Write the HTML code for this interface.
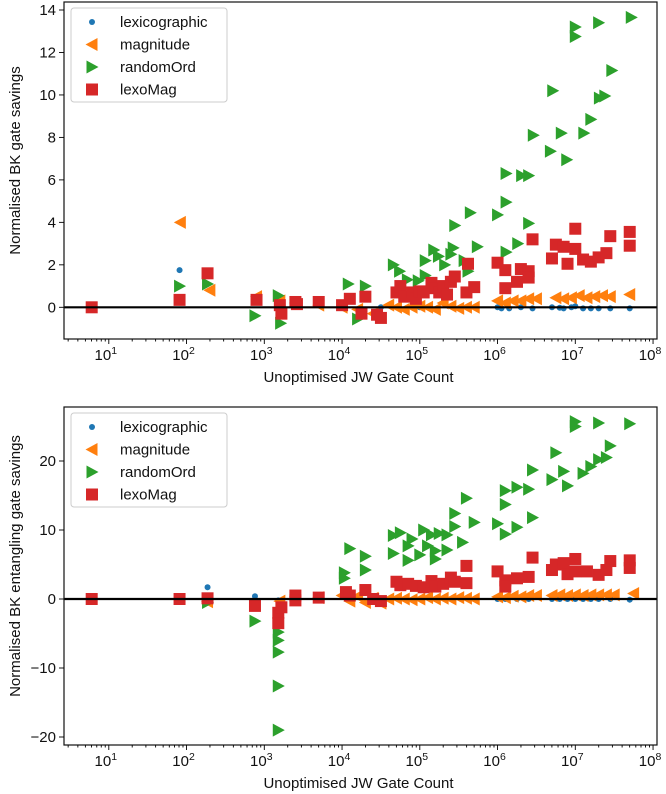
<!DOCTYPE html>
<html><head><meta charset="utf-8"><style>
body{margin:0;background:#fff;width:666px;height:794px;overflow:hidden}
svg{display:block;font-family:"Liberation Sans","DejaVu Sans",sans-serif}
</style></head><body>
<svg id="fig" width="666" height="794" viewBox="0 0 666 794"></svg>
<script>
// ---- data: x stored as log10(gate count) ----
const seriesNames = ["lexicographic","magnitude","randomOrd","lexoMag"];
const xTickExps = [1,2,3,4,5,6,7,8];
const topYTicks = [0,2,4,6,8,10,12,14];
const botYTicks = [-20,-10,0,10,20];

const topLexX = [1.91,6.0,6.05,6.15,6.3,6.45,6.7,6.8,6.85,6.95,7.0,7.1,7.2,7.3,7.45,7.7,3.2,4.0,4.5,5.0];
const topLexY = [1.75,0.0,-0.05,-0.05,0,-0.05,0,-0.02,-0.05,0,0.05,-0.05,-0.05,-0.05,-0.05,-0.05,0,0,0,0];
const topMagX = [1.92,2.3,2.9,3.2,3.4,3.7,4.0,4.2,4.4,4.6,4.7,4.8,4.9,5.0,5.1,5.2,5.3,5.4,5.5,5.6,5.7,6.0,6.1,6.2,6.3,6.4,6.5,6.75,6.85,6.95,7.05,7.15,7.25,7.35,7.45,7.7];
const topMagY = [4.0,0.8,0.5,0.3,0.2,0.1,0.0,-0.1,-0.3,0.1,0.0,-0.1,0.0,0.05,0.0,-0.1,0.2,0.05,-0.05,0.0,0.0,0.3,0.2,0.3,0.3,0.4,0.4,0.45,0.4,0.45,0.55,0.45,0.5,0.55,0.5,0.6];
const topRandX = [1.91,2.27,2.88,3.18,3.21,4.08,4.3,4.2,4.66,4.74,4.84,4.98,5.07,5.07,5.18,5.24,5.32,5.43,5.45,5.4,5.57,5.62,5.65,5.74,6.0,6.11,6.11,6.11,6.26,6.31,6.4,6.4,6.46,6.68,6.71,6.82,6.89,7.0,7.0,7.11,7.2,7.3,7.31,7.38,7.47,7.72];
const topRandY = [1.0,1.1,-0.4,0.55,-0.75,1.1,1.0,-0.55,2.0,1.7,1.3,1.25,2.2,1.5,2.7,2.4,2.0,2.8,3.85,2.5,2.2,1.7,4.45,2.85,4.35,6.3,4.95,2.6,3.0,6.2,6.2,3.95,8.1,7.35,10.2,8.2,6.95,13.2,12.75,8.2,8.85,13.4,9.85,9.95,11.15,13.65];
const topMagSqX = [0.78,1.91,2.27,2.9,3.2,3.22,3.4,3.42,3.7,4.0,4.1,4.25,4.3,4.45,4.5,4.7,4.75,4.8,4.9,4.95,5.0,5.05,5.15,5.2,5.25,5.3,5.35,5.4,5.45,5.6,5.62,5.7,6.0,6.1,6.1,6.25,6.3,6.4,6.4,6.45,6.7,6.75,6.85,6.9,7.0,7.0,7.1,7.2,7.3,7.4,7.45,7.7,7.7];
const topMagSqY = [0,0.35,1.6,0.35,0.1,-0.3,0.25,0.15,0.25,0.1,0.4,-0.3,0.5,-0.35,-0.5,0.7,1.0,0.5,0.7,0.4,0.75,0.7,1.15,0.9,0.7,1.0,0.6,1.2,1.45,0.7,2.05,0.95,2.1,1.75,0.9,1.2,1.8,1.7,1.4,3.2,2.3,2.95,2.85,2.05,3.7,2.75,2.25,2.15,2.35,2.55,3.35,3.55,2.9];

const botLexX = [2.27,2.88,3.18,6.0,6.1,6.25,6.4,6.7,6.8,6.9,7.0,7.1,7.2,7.3,7.45,7.7];
const botLexY = [1.7,0.4,-0.2,0,0,0,0,0,0,0,0,0,0,0,0,-0.1];
const botMagX = [2.27,3.2,3.4,3.7,4.0,4.1,4.2,4.3,4.4,4.5,4.6,4.7,4.8,4.9,5.0,5.1,5.2,5.3,5.4,5.5,5.6,5.7,6.0,6.1,6.2,6.3,6.4,6.5,6.7,6.8,6.9,7.0,7.1,7.2,7.3,7.4,7.5,7.75];
const botMagY = [-0.4,-0.3,0.3,0.2,0.5,-0.3,0.4,-0.5,0.1,-0.6,0.0,0.1,0.0,-0.1,0.0,0.2,0.0,0.1,0.0,0.2,0.1,0.0,0.3,0.2,0.4,0.3,0.5,0.5,0.5,0.6,0.5,0.6,0.5,0.6,0.6,0.6,0.6,0.8];
const botRandX = [2.27,2.88,3.18,3.18,3.18,3.18,3.18,4.03,4.03,4.1,4.3,4.3,4.66,4.66,4.75,4.85,4.85,4.9,5.0,5.05,5.1,5.15,5.2,5.2,5.25,5.35,5.35,5.45,5.45,5.55,5.6,5.7,6.0,6.1,6.1,6.1,6.25,6.25,6.4,6.45,6.45,6.7,6.75,6.85,6.9,7.0,7.0,7.1,7.2,7.3,7.3,7.4,7.45,7.7];
const botRandY = [-0.5,-3.2,-4.8,-6,-7.7,-12.6,-19,3.8,3.0,7.3,6.2,4.2,6.6,9.2,9.6,7.7,5.6,8.7,6.4,10.0,7.7,9.3,7.0,5.8,9.5,7.1,9.3,10.5,12.4,8.2,14.6,11.1,10.9,15.7,13.7,9.4,16.2,10.4,15.9,18.7,11.8,17.3,21.2,18.5,16.4,25.0,25.7,18.2,19.2,20.2,25.5,20.5,22.2,25.4];
const botSqX = [0.78,1.91,2.27,2.88,3.18,3.18,3.22,3.4,3.4,3.7,4.05,4.1,4.3,4.4,4.5,4.7,4.75,4.85,4.95,5.05,5.15,5.2,5.3,5.4,5.45,5.6,5.6,6.0,6.1,6.1,6.25,6.4,6.45,6.7,6.75,6.85,6.9,7.0,7.0,7.15,7.3,7.4,7.45,7.7,7.7];
const botSqY = [0,0,0.1,-1,-2,-3.5,-1.2,0.5,-0.2,0.2,1,0.5,1.3,0,-0.3,2.5,2,2.2,1.9,1.7,2.6,1.8,2.2,3.1,2.5,2.3,4.8,4.0,2.7,1.8,3.0,3.2,6.0,4.2,5.0,5.2,3.6,5.8,4.0,4.0,3.5,4.2,5.5,5.6,4.5];

const NS="http://www.w3.org/2000/svg";
const svg=document.getElementById('fig');
const COLORS=["#1f77b4","#ff7f0e","#2ca02c","#d62728"];
function mk(tag,attrs,parent){const e=document.createElementNS(NS,tag);for(const k in attrs)e.setAttribute(k,attrs[k]);(parent||svg).appendChild(e);return e;}

function marker(g,kind,cx,cy,color){
  let e;
  if(kind===0){e=mk('circle',{cx:cx,cy:cy,r:3,fill:color},g);}
  else if(kind===1){e=mk('polygon',{points:`${cx-6.5},${cy} ${cx+5.5},${cy-6.5} ${cx+5.5},${cy+6.5}`,fill:color},g);}
  else if(kind===2){e=mk('polygon',{points:`${cx+6.5},${cy} ${cx-5.5},${cy-6.5} ${cx-5.5},${cy+6.5}`,fill:color},g);}
  else {e=mk('rect',{x:cx-6,y:cy-6,width:12,height:12,fill:color},g);}
  return e;
}

function drawChart(cfg){
  const L=64,R=657,T=cfg.top,B=cfg.bottom;
  const xs=v=>108.8+(v-1)*77.75;
  const ys=v=>cfg.y0px+(cfg.y1px-cfg.y0px)*(v-cfg.y0)/(cfg.y1-cfg.y0);
  const g=mk('g',{});
  
  
  mk('rect',{x:L,y:T,width:R-L,height:B-T,fill:'#fff'},g);
  const groups=[[cfg.lx,cfg.ly],[cfg.mx,cfg.my],[cfg.rx,cfg.ry],[cfg.sx,cfg.sy]];
  const clip=mk('clipPath',{id:cfg.name+'-clip'},g);
  mk('rect',{x:L,y:T,width:R-L,height:B-T},clip);
  groups.forEach((d,si)=>{
    const sg=mk('g',{'clip-path':`url(#${cfg.name}-clip)`},g);
    
    
    d[0].forEach((xv,i)=>{
      const m=marker(sg,si,xs(xv),ys(d[1][i]),COLORS[si]);
      
      
    });
  });
  const z=mk('line',{x1:L,x2:R,y1:ys(0),y2:ys(0),stroke:'#000','stroke-width':2.2},g);
  
  
  const fr=mk('rect',{x:L,y:T,width:R-L,height:B-T,fill:'none',stroke:'#111','stroke-width':1.2},g);
  
  
  for(let d=0;d<=8;d++){
    for(let k=1;k<10;k++){
      const v=d+Math.log10(k);const px=xs(v);
      if(px<L||px>R)continue;
      mk('line',{x1:px,x2:px,y1:B,y2:B+(k===1?5:2.5),stroke:'#000','stroke-width':0.9},g);
    }
  }
  xTickExps.forEach(e=>{
    const t=mk('text',{x:xs(e)-3,y:B+21,'font-size':15,'text-anchor':'middle',fill:'#111'},g);
    
    
    t.appendChild(document.createTextNode('10'));
    const s=mk('tspan',{dy:-6,'font-size':10.5},t);s.textContent=String(e);
  });
  cfg.yt.forEach(v=>{
    const py=ys(v);
    mk('line',{x1:L-5,x2:L,y1:py,y2:py,stroke:'#000','stroke-width':0.9},g);
    const t=mk('text',{x:L-8,y:py+5,'font-size':15,'text-anchor':'end',fill:'#111'},g);
    
    
    t.textContent=v<0?'\u2212'+(-v):String(v);
  });
  const xl=mk('text',{x:(L+R)/2-2,y:B+43,'font-size':15,'text-anchor':'middle',fill:'#111'},g);
  
  
  xl.textContent='Unoptimised JW Gate Count';
  const yl=mk('text',{x:0,y:0,'font-size':15,'text-anchor':'middle',fill:'#111',transform:`translate(20,${(T+B)/2-10}) rotate(-90)`},g);
  
  
  yl.textContent=cfg.ylabel;
  const lg=mk('g',{},g);
  
  
  mk('rect',{x:71,y:T+6,width:156,height:94,rx:3,fill:'#fff',stroke:'#ccc','stroke-width':1},lg);
  seriesNames.forEach((n,i)=>{
    const cy=T+20+i*22.5;
    marker(lg,i,92,cy,COLORS[i]);
    const t=mk('text',{x:120,y:cy+5,'font-size':15,fill:'#111'},lg);
    
    
    t.textContent=n;
  });
}

drawChart({name:'top-chart',top:2,bottom:339,y0:0,y1:14,y0px:307.3,y1px:10,yt:topYTicks,
  ylabel:'Normalised BK gate savings',
  lx:topLexX,ly:topLexY,mx:topMagX,my:topMagY,rx:topRandX,ry:topRandY,sx:topMagSqX,sy:topMagSqY});
drawChart({name:'bottom-chart',top:407,bottom:745,y0:0,y1:20,y0px:599,y1px:461,yt:botYTicks,
  ylabel:'Normalised BK entangling gate savings',
  lx:botLexX,ly:botLexY,mx:botMagX,my:botMagY,rx:botRandX,ry:botRandY,sx:botSqX,sy:botSqY});
</script>
</body></html>
